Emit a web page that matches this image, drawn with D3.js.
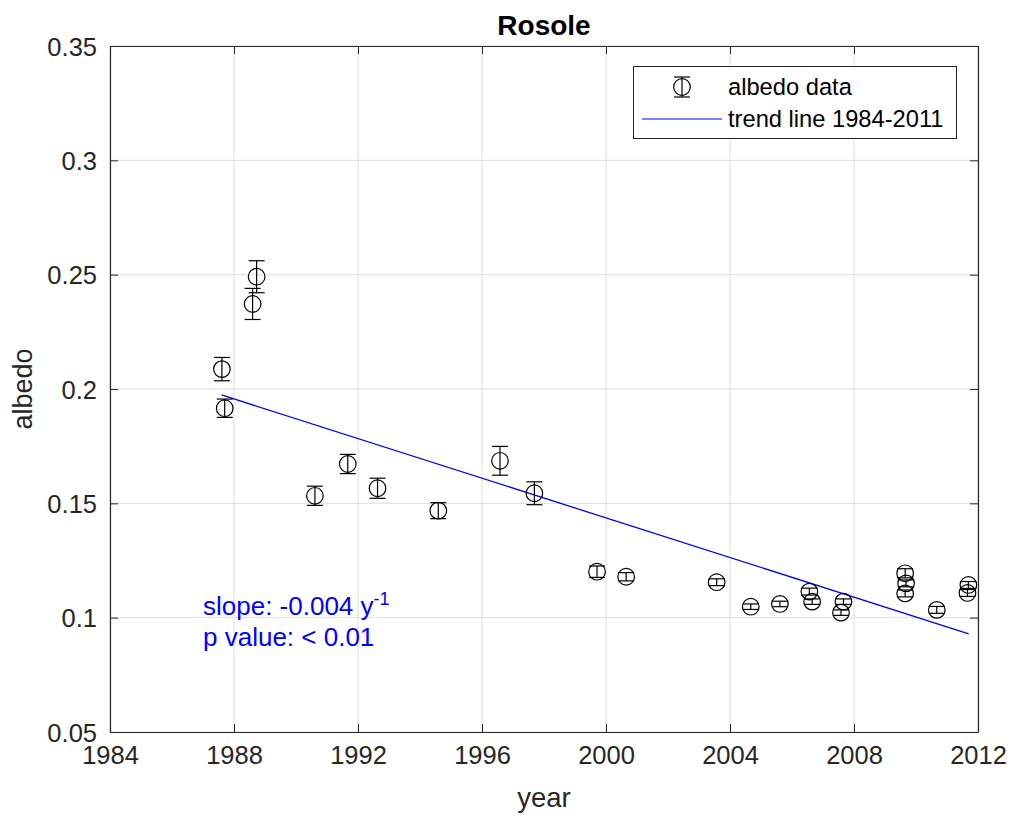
<!DOCTYPE html>
<html>
<head>
<meta charset="utf-8">
<script src="https://cdn.jsdelivr.net/npm/d3@7"></script>
<style>
body { margin: 0; background: #fff; }
svg { display: block; font-family: "Liberation Sans", Arial, sans-serif; }
</style>
</head>
<body>
<svg id="chart" width="1011" height="820"></svg>
<script>
// ---- data ----
const years = [1987.61, 1987.70, 1988.60, 1988.73, 1990.61, 1991.67, 1992.63, 1994.59,
  1996.58, 1997.69, 1999.71, 2000.65, 2003.57, 2004.67, 2005.61, 2006.56, 2006.65,
  2007.66, 2007.58, 2009.65, 2009.68, 2009.65, 2010.67, 2011.69, 2011.66];
const albedo = [0.2087, 0.1916, 0.2372, 0.2491, 0.1533, 0.1672, 0.1566, 0.1468,
  0.1686, 0.1544, 0.1201, 0.1179, 0.1155, 0.1048, 0.1060, 0.1114, 0.1070,
  0.1070, 0.1022, 0.1194, 0.1150, 0.1106, 0.1034, 0.1143, 0.1108];
const errors = [0.0051, 0.0040, 0.0068, 0.0070, 0.0042, 0.0042, 0.0044, 0.0035,
  0.0063, 0.0050, 0.0025, 0.0018, 0.0015, 0.0012, 0.0012, 0.0015, 0.0012,
  0.0012, 0.0012, 0.0020, 0.0015, 0.0015, 0.0015, 0.0015, 0.0015];
const trendYears = [1987.6, 2011.7];
const trendValues = [0.1974, 0.0929];
const xTicks = [1984, 1988, 1992, 1996, 2000, 2004, 2008, 2012];
const yTicks = [0.05, 0.1, 0.15, 0.2, 0.25, 0.3, 0.35];
const title = "Rosole";
const xLabel = "year";
const yLabel = "albedo";
const legendLabels = ["albedo data", "trend line 1984-2011"];
const slopeText = "slope: -0.004 y";
const pText = "p value: < 0.01";

// ---- layout ----
const svg = d3.select("#chart");
const L = 110, R = 978, T = 46, B = 732;
const axisColor = "#262626";
const x = d3.scaleLinear().domain([1984, 2012]).range([L, R]);
const y = d3.scaleLinear().domain([0.05, 0.35]).range([B, T]);

// grid
const g = svg.append("g");
g.selectAll(".gx").data(xTicks).enter().append("line")
  .attr("x1", d => x(d)).attr("x2", d => x(d)).attr("y1", T).attr("y2", B)
  .attr("stroke", "#dedede").attr("stroke-width", 1);
g.selectAll(".gy").data(yTicks).enter().append("line")
  .attr("y1", d => y(d)).attr("y2", d => y(d)).attr("x1", L).attr("x2", R)
  .attr("stroke", "#dedede").attr("stroke-width", 1);

// axes (ticks inward)
const xAxis = d3.axisBottom(x).tickValues(xTicks).tickFormat(d3.format("d"))
  .tickSizeInner(-8).tickSizeOuter(0).tickPadding(14);
const yAxis = d3.axisLeft(y).tickValues(yTicks).tickFormat(d => d3.format("")(d))
  .tickSizeInner(-8).tickSizeOuter(0).tickPadding(13);
const xa = svg.append("g").attr("transform", `translate(0,${B})`).call(xAxis);
const ya = svg.append("g").attr("transform", `translate(${L},0)`).call(yAxis);
const xat = svg.append("g").attr("transform", `translate(0,${T})`)
  .call(d3.axisTop(x).tickValues(xTicks).tickFormat("").tickSizeInner(-8).tickSizeOuter(0));
const yar = svg.append("g").attr("transform", `translate(${R},0)`)
  .call(d3.axisRight(y).tickValues(yTicks).tickFormat("").tickSizeInner(-8).tickSizeOuter(0));
[xa, ya, xat, yar].forEach(a => {
  a.select(".domain").attr("stroke", axisColor).attr("stroke-width", 1.2);
  a.selectAll(".tick line").attr("stroke", axisColor).attr("stroke-width", 1);
  a.selectAll("text").attr("fill", axisColor).attr("font-size", 25.5)
    .attr("font-family", "Liberation Sans, Arial, sans-serif");
});
ya.selectAll("text").attr("dy", "0.36em");

// trend line
svg.append("line")
  .attr("x1", x(trendYears[0])).attr("y1", y(trendValues[0]))
  .attr("x2", x(trendYears[1])).attr("y2", y(trendValues[1]))
  .attr("stroke", "#0000ff").attr("stroke-width", 1.3);

// error bars + circles
const pts = years.map((yr, i) => ({yr, v: albedo[i], e: errors[i]}));
const cap = 8, rad = 8.3;
const eg = svg.append("g").attr("stroke", "#000").attr("fill", "none").attr("stroke-width", 1.2);
pts.forEach(p => {
  const cx = x(p.yr), top = y(p.v + p.e), bot = y(p.v - p.e);
  eg.append("line").attr("x1", cx).attr("x2", cx).attr("y1", top).attr("y2", bot);
  eg.append("line").attr("x1", cx - cap).attr("x2", cx + cap).attr("y1", top).attr("y2", top);
  eg.append("line").attr("x1", cx - cap).attr("x2", cx + cap).attr("y1", bot).attr("y2", bot);
  eg.append("circle").attr("cx", cx).attr("cy", y(p.v)).attr("r", rad);
});

// title and labels
svg.append("text").attr("x", (L + R) / 2).attr("y", 35).attr("text-anchor", "middle")
  .attr("font-weight", "bold").attr("font-size", 28).attr("fill", "#000").text(title);
svg.append("text").attr("x", (L + R) / 2).attr("y", 807).attr("text-anchor", "middle")
  .attr("font-size", 27.5).attr("fill", axisColor).text(xLabel);
svg.append("text").attr("transform", `translate(32,${(T + B) / 2}) rotate(-90)`)
  .attr("text-anchor", "middle").attr("font-size", 27).attr("fill", axisColor).text(yLabel);

// annotations
const ann = svg.append("text").attr("x", x(1987.0)).attr("y", 615)
  .attr("font-size", 26).attr("fill", "#0000ff");
ann.append("tspan").text(slopeText);
ann.append("tspan").attr("font-size", 18).attr("dy", -10).text("-1");
svg.append("text").attr("x", x(1987.0)).attr("y", 646)
  .attr("font-size", 26).attr("fill", "#0000ff").text(pText);

// legend
const lg = svg.append("g");
lg.append("rect").attr("x", 633.5).attr("y", 66.5).attr("width", 323).attr("height", 72)
  .attr("fill", "#fff").attr("stroke", axisColor).attr("stroke-width", 1);
const mx = 682, my = 87;
lg.append("line").attr("x1", mx).attr("x2", mx).attr("y1", my - 10).attr("y2", my + 10)
  .attr("stroke", "#000").attr("stroke-width", 1.2);
lg.append("line").attr("x1", mx - 8).attr("x2", mx + 8).attr("y1", my - 10).attr("y2", my - 10)
  .attr("stroke", "#000").attr("stroke-width", 1.2);
lg.append("line").attr("x1", mx - 8).attr("x2", mx + 8).attr("y1", my + 10).attr("y2", my + 10)
  .attr("stroke", "#000").attr("stroke-width", 1.2);
lg.append("circle").attr("cx", mx).attr("cy", my).attr("r", rad)
  .attr("fill", "none").attr("stroke", "#000").attr("stroke-width", 1.2);
lg.append("line").attr("x1", 642).attr("x2", 722).attr("y1", 119).attr("y2", 119)
  .attr("stroke", "#0000ff").attr("stroke-width", 1.2);
lg.append("text").attr("x", 728).attr("y", 95).attr("font-size", 23.7).attr("fill", "#000").text(legendLabels[0]);
lg.append("text").attr("x", 728).attr("y", 127).attr("font-size", 23.7).attr("fill", "#000").text(legendLabels[1]);
</script>
</body>
</html>
